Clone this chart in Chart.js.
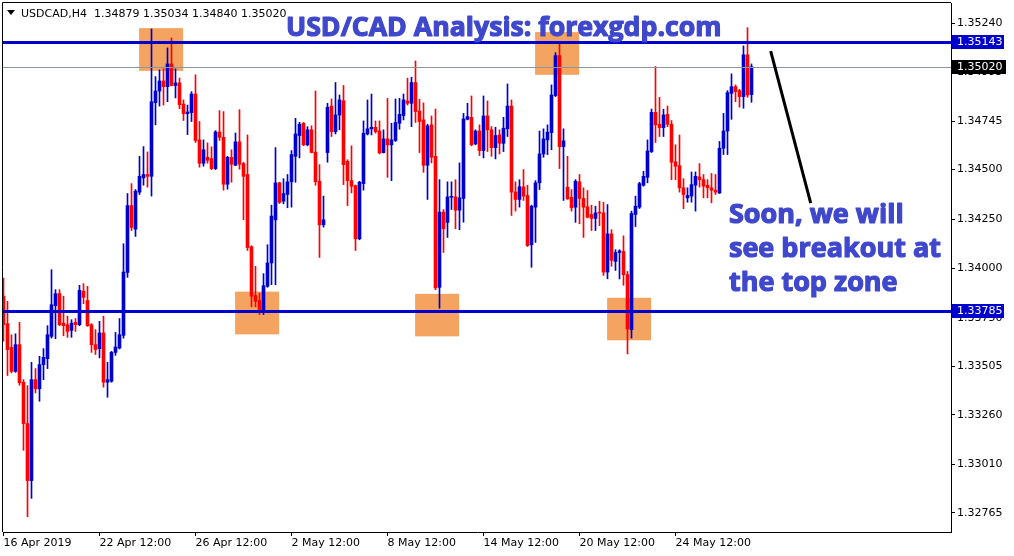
<!DOCTYPE html>
<html>
<head>
<meta charset="utf-8">
<script src="https://cdn.jsdelivr.net/npm/chart.js@4.4.0/dist/chart.umd.min.js"></script>
<style>
  html, body { margin: 0; padding: 0; background: #fff; }
</style>
</head>
<body>
<canvas id="chart" width="1014" height="556"></canvas>
<script>
// USDCAD H4 candles (oldest first)
const opens = [
  1.33860, 1.33721, 1.33601, 1.33480, 1.33615, 1.33425, 1.33216, 1.32928, 1.33438, 1.33392,
  1.33514, 1.33544, 1.33657, 1.33812, 1.33873, 1.33724, 1.33716, 1.33687, 1.33728, 1.33716,
  1.33885, 1.33838, 1.33716, 1.33615, 1.33595, 1.33674, 1.33425, 1.33430, 1.33576, 1.33598,
  1.33662, 1.33980, 1.34318, 1.34199, 1.34386, 1.34458, 1.34475, 1.34466, 1.34838, 1.34897,
  1.34948, 1.34919, 1.35034, 1.34925, 1.34938, 1.34831, 1.34783, 1.34788, 1.34882, 1.34650,
  1.34532, 1.34562, 1.34555, 1.34505, 1.34690, 1.34663, 1.34426, 1.34562, 1.34522, 1.34640,
  1.34530, 1.34475, 1.34110, 1.33863, 1.33838, 1.33792, 1.33910, 1.34028, 1.34246, 1.34433,
  1.34340, 1.34374, 1.34438, 1.34567, 1.34672, 1.34734, 1.34625, 1.34701, 1.34588, 1.34441,
  1.34221, 1.34586, 1.34821, 1.34692, 1.34776, 1.34848, 1.34542, 1.34444, 1.34419, 1.34150,
  1.34429, 1.34680, 1.34706, 1.34714, 1.34695, 1.34586, 1.34655, 1.34625, 1.34647, 1.34734,
  1.34773, 1.34847, 1.34835, 1.34940, 1.34796, 1.34751, 1.34522, 1.34726, 1.34567, 1.33905,
  1.34285, 1.34233, 1.34360, 1.34362, 1.34295, 1.34354, 1.34754, 1.34764, 1.34630, 1.34695,
  1.34596, 1.34771, 1.34701, 1.34611, 1.34675, 1.34633, 1.34706, 1.34821, 1.34387, 1.34349,
  1.34413, 1.34369, 1.34120, 1.34310, 1.34433, 1.34579, 1.34650, 1.34687, 1.34874, 1.35076,
  1.34616, 1.34411, 1.34360, 1.34310, 1.34438, 1.34354, 1.34312, 1.34273, 1.34253, 1.34283,
  1.34281, 1.33982, 1.34175, 1.34036, 1.34081, 1.34086, 1.33969, 1.33691, 1.34273, 1.34310,
  1.34421, 1.34461, 1.34591, 1.34789, 1.34729, 1.34712, 1.34779, 1.34729, 1.34539, 1.34520,
  1.34408, 1.34357, 1.34366, 1.34421, 1.34463, 1.34449, 1.34421, 1.34408, 1.34396, 1.34382,
  1.34608, 1.34695, 1.34885, 1.34919, 1.34899, 1.34869, 1.35080, 1.34879,
];
const highs = [
  1.33952, 1.33834, 1.33665, 1.33670, 1.33728, 1.33438, 1.33408, 1.33526, 1.33494, 1.33556,
  1.33595, 1.33711, 1.33994, 1.33893, 1.33893, 1.33860, 1.33759, 1.33741, 1.33747, 1.33915,
  1.33923, 1.33910, 1.33721, 1.33691, 1.33733, 1.33759, 1.33526, 1.33581, 1.33677, 1.33747,
  1.34125, 1.34379, 1.34429, 1.34399, 1.34567, 1.34616, 1.34589, 1.35211, 1.34970, 1.35004,
  1.35009, 1.35115, 1.35165, 1.35009, 1.34963, 1.34852, 1.34826, 1.34894, 1.34979, 1.34743,
  1.34650, 1.34635, 1.34615, 1.34697, 1.34798, 1.34793, 1.34567, 1.34600, 1.34685, 1.34803,
  1.34537, 1.34675, 1.34115, 1.34011, 1.33876, 1.33974, 1.34120, 1.34320, 1.34611, 1.34436,
  1.34454, 1.34475, 1.34596, 1.34759, 1.34739, 1.34738, 1.34717, 1.34721, 1.34897, 1.34525,
  1.34366, 1.34835, 1.34857, 1.34940, 1.34877, 1.34925, 1.34550, 1.34620, 1.34422, 1.34441,
  1.34746, 1.34852, 1.34882, 1.34746, 1.34746, 1.34701, 1.34860, 1.34734, 1.34857, 1.34860,
  1.34882, 1.34962, 1.34967, 1.35049, 1.34855, 1.34837, 1.34729, 1.34771, 1.34806, 1.34449,
  1.34298, 1.34438, 1.34438, 1.34449, 1.34534, 1.34784, 1.34835, 1.34872, 1.34701, 1.34726,
  1.34872, 1.34847, 1.34717, 1.34714, 1.34701, 1.34764, 1.34933, 1.34852, 1.34438, 1.34449,
  1.34500, 1.34421, 1.34320, 1.34444, 1.34695, 1.34706, 1.34726, 1.34928, 1.35091, 1.35138,
  1.34706, 1.34567, 1.34399, 1.34449, 1.34475, 1.34408, 1.34394, 1.34320, 1.34315, 1.34340,
  1.34335, 1.34323, 1.34196, 1.34095, 1.34095, 1.34165, 1.33985, 1.34290, 1.34366, 1.34436,
  1.34491, 1.34650, 1.34806, 1.35021, 1.34865, 1.34805, 1.34821, 1.34748, 1.34625, 1.34675,
  1.34454, 1.34408, 1.34488, 1.34488, 1.34530, 1.34475, 1.34449, 1.34480, 1.34475, 1.34642,
  1.34784, 1.34899, 1.34984, 1.34928, 1.34906, 1.35125, 1.35217, 1.35034,
];
const lows = [
  1.33632, 1.33459, 1.33472, 1.33475, 1.33410, 1.33081, 1.32745, 1.32838, 1.33371, 1.33329,
  1.33438, 1.33494, 1.33648, 1.33645, 1.33711, 1.33660, 1.33652, 1.33652, 1.33682, 1.33711,
  1.33822, 1.33707, 1.33576, 1.33565, 1.33548, 1.33400, 1.33349, 1.33425, 1.33561, 1.33593,
  1.33648, 1.33955, 1.34192, 1.34162, 1.34374, 1.34421, 1.34411, 1.34366, 1.34726, 1.34821,
  1.34826, 1.34843, 1.34923, 1.34862, 1.34808, 1.34748, 1.34677, 1.34743, 1.34637, 1.34512,
  1.34517, 1.34532, 1.34500, 1.34500, 1.34647, 1.34396, 1.34401, 1.34436, 1.34520, 1.34502,
  1.34246, 1.34091, 1.33806, 1.33806, 1.33767, 1.33767, 1.33905, 1.33918, 1.33918, 1.34328,
  1.34327, 1.34307, 1.34310, 1.34436, 1.34559, 1.34621, 1.34620, 1.34584, 1.34421, 1.34056,
  1.34209, 1.34537, 1.34667, 1.34680, 1.34701, 1.34424, 1.34318, 1.34382, 1.34091, 1.34145,
  1.34396, 1.34675, 1.34675, 1.34684, 1.34579, 1.34584, 1.34461, 1.34444, 1.34642, 1.34704,
  1.34751, 1.34826, 1.34717, 1.34738, 1.34586, 1.34486, 1.34349, 1.34534, 1.33893, 1.33799,
  1.34081, 1.34157, 1.34298, 1.34201, 1.34196, 1.34234, 1.34751, 1.34620, 1.34625, 1.34571,
  1.34559, 1.34591, 1.34567, 1.34554, 1.34579, 1.34591, 1.34667, 1.34268, 1.34290, 1.34310,
  1.34344, 1.34111, 1.34006, 1.34132, 1.34399, 1.34562, 1.34576, 1.34600, 1.34869, 1.34505,
  1.34344, 1.34349, 1.34290, 1.34233, 1.34226, 1.34157, 1.34256, 1.34192, 1.34192, 1.34217,
  1.33965, 1.33948, 1.34011, 1.33990, 1.33947, 1.33915, 1.33568, 1.33648, 1.34212, 1.34303,
  1.34416, 1.34433, 1.34586, 1.34637, 1.34667, 1.34667, 1.34717, 1.34449, 1.34449, 1.34386,
  1.34302, 1.34335, 1.34335, 1.34290, 1.34411, 1.34357, 1.34357, 1.34332, 1.34374, 1.34379,
  1.34576, 1.34576, 1.34754, 1.34843, 1.34815, 1.34810, 1.34865, 1.34840,
];
const closes = [
  1.33716, 1.33590, 1.33480, 1.33615, 1.33422, 1.33216, 1.32928, 1.33438, 1.33392, 1.33514,
  1.33551, 1.33665, 1.33817, 1.33873, 1.33716, 1.33711, 1.33682, 1.33724, 1.33716, 1.33890,
  1.33854, 1.33711, 1.33615, 1.33590, 1.33674, 1.33425, 1.33438, 1.33576, 1.33603, 1.33665,
  1.33982, 1.34318, 1.34207, 1.34391, 1.34466, 1.34475, 1.34466, 1.34843, 1.34897, 1.34948,
  1.34919, 1.35034, 1.34925, 1.34938, 1.34828, 1.34783, 1.34791, 1.34882, 1.34647, 1.34532,
  1.34600, 1.34547, 1.34505, 1.34690, 1.34663, 1.34426, 1.34562, 1.34527, 1.34640, 1.34527,
  1.34466, 1.34106, 1.33860, 1.33834, 1.33792, 1.33913, 1.34028, 1.34265, 1.34433, 1.34334,
  1.34379, 1.34438, 1.34576, 1.34680, 1.34729, 1.34625, 1.34701, 1.34586, 1.34439, 1.34221,
  1.34246, 1.34815, 1.34692, 1.34776, 1.34852, 1.34525, 1.34444, 1.34416, 1.34150, 1.34436,
  1.34684, 1.34706, 1.34714, 1.34692, 1.34584, 1.34655, 1.34625, 1.34650, 1.34738, 1.34779,
  1.34852, 1.34835, 1.34940, 1.34793, 1.34743, 1.34522, 1.34721, 1.34562, 1.33902, 1.34285,
  1.34201, 1.34362, 1.34362, 1.34295, 1.34357, 1.34756, 1.34768, 1.34625, 1.34695, 1.34596,
  1.34771, 1.34701, 1.34611, 1.34672, 1.34633, 1.34709, 1.34821, 1.34386, 1.34349, 1.34413,
  1.34366, 1.34116, 1.34315, 1.34433, 1.34579, 1.34655, 1.34689, 1.34877, 1.35076, 1.34616,
  1.34645, 1.34352, 1.34307, 1.34441, 1.34354, 1.34310, 1.34259, 1.34253, 1.34281, 1.34280,
  1.33982, 1.34175, 1.34041, 1.34081, 1.34089, 1.33969, 1.33694, 1.34278, 1.34315, 1.34429,
  1.34466, 1.34594, 1.34789, 1.34726, 1.34712, 1.34776, 1.34729, 1.34537, 1.34517, 1.34408,
  1.34374, 1.34369, 1.34424, 1.34466, 1.34449, 1.34416, 1.34408, 1.34396, 1.34386, 1.34608,
  1.34695, 1.34889, 1.34919, 1.34894, 1.34869, 1.35080, 1.34877, 1.35020,
];

const dateTicks = [0, 24, 48, 72, 96, 120, 144, 168]; // candle index of each date label
const dateLabels = [
  "16 Apr 2019", "22 Apr 12:00", "26 Apr 12:00", "2 May 12:00",
  "8 May 12:00", "14 May 12:00", "20 May 12:00", "24 May 12:00",
];
const priceTicks = [
  1.35240, 1.34995, 1.34745, 1.34500, 1.34250, 1.34000,
  1.33750, 1.33505, 1.33260, 1.33010, 1.32765,
];

const resistance = 1.35143;
const support = 1.33785;

// orange zones: candle index from/to, price top/bottom
const zoneFrom = [33.9, 57.9, 102.9, 132.9, 150.9];
const zoneTo = [44.9, 68.9, 113.9, 143.9, 161.9];
const zoneTop = [1.35215, 1.33883, 1.33872, 1.35195, 1.33852];
const zoneBottom = [1.34999, 1.33667, 1.33657, 1.34979, 1.33637];

const arrowStart = [191.8, 1.35099];
const arrowEnd = [201.8, 1.34330];

const bull = "#0000cd";
const bear = "#ff0000";
const ink = "#3f48cc";
const axisFont = { family: "DejaVu Sans", size: 11 };

function fitFont(ctx, text, width, family) {
  ctx.font = `bold 100px ${family}`;
  const size = (100 * width) / ctx.measureText(text).width;
  return `bold ${size.toFixed(1)}px ${family}`;
}

// heavy lettering: fill plus a thin stroke of the same colour
function heavyText(ctx, text, x, y) {
  ctx.fillText(text, x, y);
  ctx.strokeText(text, x, y);
}

function priceBox(ctx, y, value, bg, w) {
  const py = Math.round(y.getPixelForValue(value));
  ctx.fillStyle = bg;
  ctx.fillRect(952, py - 7, w, 14);
  ctx.fillStyle = "#fff";
  ctx.font = "11px DejaVu Sans";
  ctx.textBaseline = "middle";
  ctx.textAlign = "left";
  ctx.fillText(value.toFixed(5), 957, py);
}

const overlays = {
  id: "overlays",
  beforeDatasetsDraw(chart) {
    const { ctx, scales: { x, y } } = chart;
    ctx.save();
    ctx.fillStyle = "#f4a460";
    for (let i = 0; i < zoneFrom.length; i++) {
      const l = x.getPixelForValue(zoneFrom[i]);
      const r = x.getPixelForValue(zoneTo[i]);
      const t = y.getPixelForValue(zoneTop[i]);
      const b = y.getPixelForValue(zoneBottom[i]);
      ctx.fillRect(l, t, r - l, b - t);
    }
    ctx.restore();
  },
  afterDatasetsDraw(chart) {
    const { ctx, chartArea: a, scales: { x, y } } = chart;
    const last = closes[closes.length - 1];
    ctx.save();
    ctx.strokeStyle = "#8c95a0";
    ctx.lineWidth = 1;
    let py = Math.round(y.getPixelForValue(last)) + 0.5;
    ctx.beginPath();
    ctx.moveTo(a.left, py);
    ctx.lineTo(a.right, py);
    ctx.stroke();

    ctx.strokeStyle = bull;
    ctx.lineWidth = 3;
    for (const level of [resistance, support]) {
      py = Math.round(y.getPixelForValue(level)) + 0.5;
      ctx.beginPath();
      ctx.moveTo(a.left, py);
      ctx.lineTo(a.right, py);
      ctx.stroke();
    }

    ctx.strokeStyle = "#000";
    ctx.lineWidth = 3;
    ctx.beginPath();
    ctx.moveTo(x.getPixelForValue(arrowStart[0]), y.getPixelForValue(arrowStart[1]));
    ctx.lineTo(x.getPixelForValue(arrowEnd[0]), y.getPixelForValue(arrowEnd[1]));
    ctx.stroke();
    ctx.restore();
  },
  afterDraw(chart) {
    const { ctx, chartArea: a, scales: { y } } = chart;
    ctx.save();
    // frame top and left (axes draw the other two sides)
    ctx.strokeStyle = "#000";
    ctx.lineWidth = 1;
    ctx.beginPath();
    ctx.moveTo(a.left - 0.5, a.bottom);
    ctx.lineTo(a.left - 0.5, a.top - 0.5);
    ctx.lineTo(a.right, a.top - 0.5);
    ctx.stroke();

    priceBox(ctx, y, resistance, bull, 52);
    priceBox(ctx, y, closes[closes.length - 1], "#000", 54);
    priceBox(ctx, y, support, bull, 52);

    // symbol line, top left
    const n = closes.length - 1;
    ctx.fillStyle = "#000";
    ctx.beginPath();
    ctx.moveTo(7, 10);
    ctx.lineTo(15, 10);
    ctx.lineTo(11, 15);
    ctx.closePath();
    ctx.fill();
    ctx.font = "11px DejaVu Sans";
    ctx.textBaseline = "alphabetic";
    ctx.fillText(
      "USDCAD,H4  " + [opens[n], highs[n], lows[n], closes[n]].map((v) => v.toFixed(5)).join(" "),
      21, 17
    );

    ctx.fillStyle = ink;
    ctx.strokeStyle = ink;
    ctx.lineWidth = 1.2;
    ctx.lineJoin = "round";
    const title = "USD/CAD Analysis: forexgdp.com";
    ctx.font = fitFont(ctx, title, 436, "Open Sans");
    heavyText(ctx, title, 286, 36);

    const note = ["Soon, we will", "see breakout at", "the top zone"];
    ctx.font = fitFont(ctx, note[1], 212, "Open Sans");
    note.forEach((line, i) => heavyText(ctx, line, 729, 223 + i * 34));
    ctx.restore();
  },
};

const colors = closes.map((c, i) => (c >= opens[i] ? bull : bear));
const wicks = lows.map((l, i) => ({ x: i, y: [l, highs[i]] }));
const bodies = opens.map((o, i) => ({ x: i, y: [o, closes[i]] }));

new Chart(document.getElementById("chart"), {
  type: "bar",
  data: {
    datasets: [
      { data: wicks, backgroundColor: colors, barThickness: 1, grouped: false, borderWidth: 0 },
      { data: bodies, backgroundColor: colors, barThickness: 3, grouped: false, borderWidth: 0, minBarLength: 1 },
    ],
  },
  options: {
    responsive: false,
    animation: false,
    devicePixelRatio: 1,
    layout: { padding: { left: 3, top: 3, right: 0, bottom: 0 } },
    plugins: { legend: { display: false }, tooltip: { enabled: false } },
    scales: {
      x: {
        type: "linear",
        min: -0.125,
        max: 236.875,
        offset: false,
        grid: { drawOnChartArea: false, offset: false, tickLength: 4, color: "#000" },
        border: { color: "#000" },
        ticks: {
          font: axisFont,
          color: "#000",
          align: "start",
          padding: 1,
          maxRotation: 0,
          autoSkip: false,
          callback: (v) => dateLabels[dateTicks.indexOf(v)],
        },
        afterBuildTicks: (s) => { s.ticks = dateTicks.map((v) => ({ value: v })); },
        afterFit: (s) => { s.height = 24; s.paddingLeft = 0; s.paddingRight = 0; },
      },
      y: {
        position: "right",
        min: 1.32668,
        max: 1.35342,
        grid: { drawOnChartArea: false, tickLength: 4, color: "#000" },
        border: { color: "#000" },
        ticks: {
          font: axisFont,
          color: "#000",
          padding: 2,
          callback: (v) => v.toFixed(5),
        },
        afterBuildTicks: (s) => { s.ticks = priceTicks.map((v) => ({ value: v })); },
        afterFit: (s) => { s.width = 63; s.paddingTop = 0; s.paddingBottom = 0; },
      },
    },
  },
  plugins: [overlays],
});
</script>
</body>
</html>
